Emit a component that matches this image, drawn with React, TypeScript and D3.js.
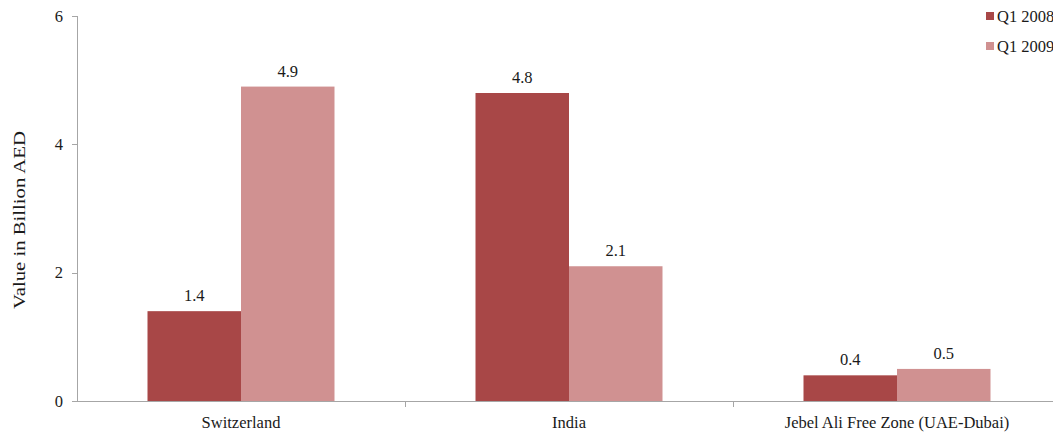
import React from "react";
import * as d3 from "d3";

const categories = ["Switzerland", "India", "Jebel Ali Free Zone (UAE-Dubai)"];
const seriesNames = ["Q1 2008", "Q1 2009"];
const q2008 = [1.4, 4.8, 0.4];
const q2009 = [4.9, 2.1, 0.5];
const labels2008 = ["1.4", "4.8", "0.4"];
const labels2009 = ["4.9", "2.1", "0.5"];
const yTicks = [0, 2, 4, 6];
const colors = ["#A84747", "#D09191"];

const W = 1053;
const H = 435;
const left = 77;
const right = 1061;
const top = 16;
const bottom = 401;
const fs = 16.5;
const FF = "Liberation Serif";

export default function App() {
  const x = d3.scaleBand<string>().domain(categories).range([left, right]);
  const inner = d3
    .scaleBand<string>()
    .domain(seriesNames)
    .range([0, x.bandwidth()])
    .paddingInner(0)
    .paddingOuter(0.754);
  const y = d3.scaleLinear().domain([0, 6]).range([bottom, top]);
  const series = [q2008, q2009];
  const lbls = [labels2008, labels2009];
  const axisColor = "#A6A6A6";
  const txt = "#1a1a1a";

  return (
    <svg width={W} height={H} style={{ position: "absolute", left: 0, top: 0, background: "#fff" }}>
      {/* y axis */}
      <line x1={left + 0.5} x2={left + 0.5} y1={top} y2={bottom} stroke={axisColor} />
      {yTicks.map((t) => (
        <g key={t}>
          <line x1={left - 5} x2={left} y1={Math.round(y(t)) + 0.5} y2={Math.round(y(t)) + 0.5} stroke={axisColor} />
          <text x={left - 14} y={y(t)} dy="0.35em" textAnchor="end" fontFamily={FF} fontSize={fs} fill={txt}>
            {t}
          </text>
        </g>
      ))}
      <text
        transform={`translate(25, 220) rotate(-90)`}
        textAnchor="middle"
        fontFamily={FF}
        fontSize={17}
        fill={txt}
        textLength={178}
        lengthAdjust="spacingAndGlyphs"
      >
        Value in Billion AED
      </text>
      {/* bars */}
      {series.map((vals, si) =>
        categories.map((c, ci) => (
          <rect
            key={`${si}-${ci}`}
            x={(x(c) as number) + (inner(seriesNames[si]) as number)}
            y={y(vals[ci])}
            width={inner.bandwidth()}
            height={bottom - y(vals[ci])}
            fill={colors[si]}
          />
        ))
      )}
      {series.map((vals, si) =>
        categories.map((c, ci) => (
          <text
            key={`l${si}-${ci}`}
            x={(x(c) as number) + (inner(seriesNames[si]) as number) + inner.bandwidth() / 2}
            y={y(vals[ci]) - 10}
            textAnchor="middle"
            fontFamily={FF}
            fontSize={fs}
            fill={txt}
          >
            {lbls[si][ci]}
          </text>
        ))
      )}
      {/* x axis */}
      <line x1={left} x2={right} y1={bottom + 0.5} y2={bottom + 0.5} stroke={axisColor} />
      {categories.map((c, i) =>
        i > 0 ? (
          <line
            key={`t${i}`}
            x1={Math.round(x(c) as number) + 0.5}
            x2={Math.round(x(c) as number) + 0.5}
            y1={bottom}
            y2={bottom + 6}
            stroke={axisColor}
          />
        ) : null
      )}
      {categories.map((c) => (
        <text
          key={c}
          x={(x(c) as number) + x.bandwidth() / 2}
          y={bottom + 27}
          textAnchor="middle"
          fontFamily={FF}
          fontSize={fs}
          fill={txt}
        >
          {c}
        </text>
      ))}
      {/* legend */}
      {seriesNames.map((s, i) => (
        <g key={s} transform={`translate(986, ${12 + i * 30})`}>
          <rect x={0} y={0} width={8} height={8} fill={colors[i]} />
          <text x={11} y={4} dy="0.35em" fontFamily={FF} fontSize={fs} fill={txt}>
            {s}
          </text>
        </g>
      ))}
    </svg>
  );
}
